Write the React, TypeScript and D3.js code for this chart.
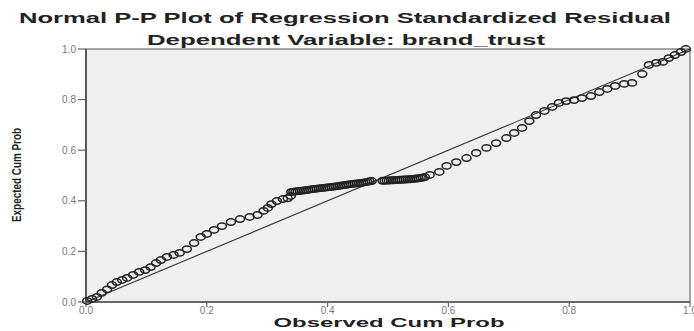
import React from 'react';
import * as d3 from 'd3';

const observed = [
  0.002, 0.01, 0.018, 0.026, 0.035, 0.043, 0.051, 0.06, 0.068, 0.078, 0.088, 0.098, 0.107, 0.116,
  0.124, 0.134, 0.145, 0.155, 0.167, 0.179, 0.19, 0.2, 0.212, 0.225, 0.24, 0.255, 0.271, 0.284,
  0.294, 0.301, 0.307, 0.316, 0.326, 0.334, 0.339,
  0.34, 0.3435, 0.347, 0.3505, 0.354, 0.3575, 0.361, 0.3645, 0.368, 0.3715, 0.375, 0.3785, 0.382,
  0.3855, 0.389, 0.3925, 0.396, 0.3995, 0.403, 0.4065, 0.41, 0.4135, 0.417, 0.4205, 0.424, 0.4275,
  0.431, 0.4345, 0.438, 0.4415, 0.445, 0.4485, 0.452, 0.4555, 0.459, 0.4625, 0.466, 0.4695, 0.473,
  0.491, 0.4945, 0.498, 0.5015, 0.505, 0.5085, 0.512, 0.5155, 0.519, 0.5225, 0.526, 0.5295, 0.533,
  0.5365, 0.54, 0.5435, 0.547, 0.5505, 0.554, 0.5575, 0.561,
  0.569, 0.585, 0.597, 0.613, 0.63, 0.646, 0.663, 0.679, 0.696, 0.709, 0.722, 0.734, 0.745, 0.759,
  0.772, 0.783, 0.795, 0.808, 0.821, 0.836, 0.85, 0.863, 0.876, 0.891, 0.904, 0.921, 0.932, 0.944,
  0.955, 0.965, 0.975, 0.985, 0.993,
];
const expected = [
  0.004, 0.012, 0.02, 0.036, 0.05, 0.067, 0.079, 0.087, 0.095, 0.107, 0.119, 0.126, 0.138, 0.154,
  0.166, 0.178, 0.186, 0.194, 0.209, 0.233, 0.257, 0.269, 0.285, 0.3, 0.316, 0.328, 0.336, 0.344,
  0.36, 0.372, 0.387, 0.399, 0.407, 0.41, 0.419,
  0.435, 0.436, 0.437, 0.438, 0.439, 0.44, 0.441, 0.442, 0.443, 0.445, 0.446, 0.447, 0.448,
  0.449, 0.45, 0.451, 0.452, 0.453, 0.454, 0.455, 0.456, 0.457, 0.458, 0.46, 0.461, 0.462,
  0.463, 0.465, 0.466, 0.467, 0.468, 0.469, 0.47, 0.471, 0.472, 0.474, 0.475, 0.477, 0.478,
  0.479, 0.479, 0.48, 0.48, 0.481, 0.481, 0.482, 0.482, 0.483, 0.483, 0.484, 0.484, 0.485,
  0.485, 0.486, 0.487, 0.488, 0.489, 0.49, 0.492, 0.494,
  0.502, 0.514, 0.538, 0.553, 0.569, 0.589, 0.609, 0.628, 0.648, 0.668, 0.688, 0.715, 0.739, 0.755,
  0.771, 0.787, 0.794, 0.798, 0.806, 0.814, 0.83, 0.842, 0.854, 0.862, 0.866, 0.901, 0.937, 0.945,
  0.949, 0.964, 0.976, 0.988, 1.0,
];
const ticks = [0, 0.2, 0.4, 0.6, 0.8, 1.0];

const W = 694;
const H = 331;
const margin = { top: 49, right: 4, bottom: 29, left: 86 };

export default function App() {
  const x = d3.scaleLinear().domain([0, 1]).range([margin.left, W - margin.right]);
  const y = d3.scaleLinear().domain([0, 1]).range([H - margin.bottom, margin.top]);
  const pts = observed.map((o, i) => ({ o, e: expected[i] }));
  const x0 = x(0), x1 = x(1), y0 = y(0), y1 = y(1);

  return (
    <div style={{ position: 'fixed', left: 0, top: 0, width: W, height: H, background: '#fff' }}>
      <svg width={W} height={H} style={{ display: 'block', fontFamily: 'Liberation Sans, Arial, sans-serif' }}>
        <text x={345} y={23} textAnchor="middle" fontSize={14} fontWeight="bold" fill="#222"
          textLength={652} lengthAdjust="spacingAndGlyphs">
          Normal P-P Plot of Regression Standardized Residual
        </text>
        <text x={346} y={45} textAnchor="middle" fontSize={14} fontWeight="bold" fill="#222"
          textLength={398} lengthAdjust="spacingAndGlyphs">
          Dependent Variable: brand_trust
        </text>

        <rect x={x0} y={y1} width={x1 - x0} height={y0 - y1} fill="#efefef" stroke="#8a8a8a" strokeWidth={1.5} />
        <line x1={x0} x2={x0} y1={y1} y2={y0} stroke="#555" strokeWidth={2} />
        <line x1={x0} x2={x1} y1={y0} y2={y0} stroke="#555" strokeWidth={1.5} />

        {ticks.map((t) => (
          <g key={'y' + t}>
            <line x1={x0 - 8} x2={x0} y1={y(t)} y2={y(t)} stroke="#666" strokeWidth={1.2} />
            <text x={x0 - 10} y={y(t) + 3.5} textAnchor="end" fontSize={10} fill="#777">{t.toFixed(1)}</text>
          </g>
        ))}
        {ticks.map((t) => (
          <g key={'x' + t}>
            <line x1={x(t)} x2={x(t)} y1={y0} y2={y0 + 5} stroke="#666" strokeWidth={1.2} />
            <text x={x(t)} y={y0 + 12} textAnchor="middle" fontSize={10} fill="#777">{t.toFixed(1)}</text>
          </g>
        ))}

        <line x1={x0} y1={y0} x2={x1} y2={y1} stroke="#333" strokeWidth={1.1} />

        {pts.map((p, i) => (
          <ellipse key={i} cx={x(p.o)} cy={y(p.e)} rx={4.5} ry={3.2} fill="none" stroke="#222" strokeWidth={1.5} />
        ))}

        <text x={389} y={327} textAnchor="middle" fontSize={13} fontWeight="bold" fill="#222"
          textLength={231} lengthAdjust="spacingAndGlyphs">
          Observed Cum Prob
        </text>
        <text transform={`translate(21,175) rotate(-90)`} textAnchor="middle" fontSize={13} fontWeight="bold"
          fill="#222" textLength={94} lengthAdjust="spacingAndGlyphs">
          Expected Cum Prob
        </text>
      </svg>
    </div>
  );
}
